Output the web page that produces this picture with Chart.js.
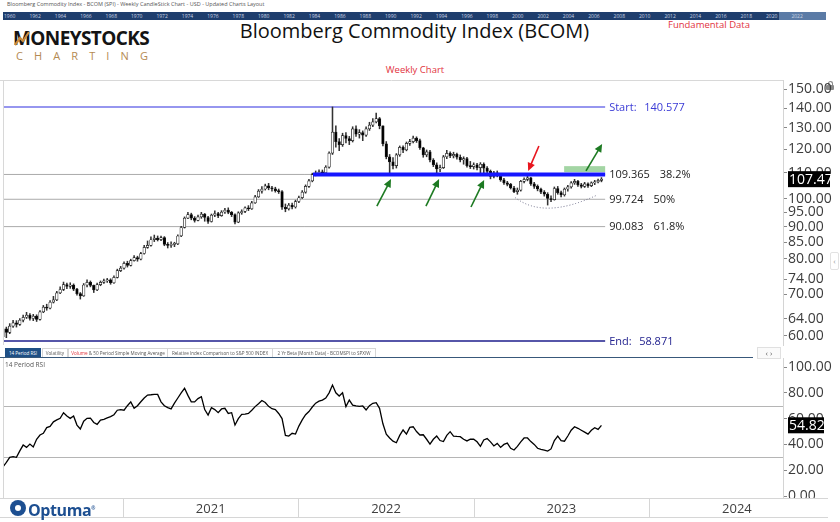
<!DOCTYPE html>
<html>
<head>
<meta charset="utf-8">
<title>Bloomberg Commodity Index (BCOM)</title>
<script src="https://cdn.jsdelivr.net/npm/chart.js"></script>
<style>
  html, body { margin: 0; padding: 0; background: #fff; }
  body { position: relative; width: 840px; height: 522px; overflow: hidden; font-family: 'Open Sans', sans-serif; }
  .abs { position: absolute; white-space: nowrap; }
  #note { left: 7px; top: 2px; font-size: 5.5px; line-height: 5.5px; color: #555; }
  #strip { left: 3px; top: 12px; width: 823px; height: 8px; background: #1f3e6d; overflow: hidden; }
  #strip .sel { position: absolute; left: 776px; top: 0; width: 47px; height: 8px; background: #5b7ba6; }
  #strip span { position: absolute; top: 1px; font-size: 5px; line-height: 6px; color: #c9d3e3; }
  #logo1 { left: 13px; top: 29px; font-size: 19px; line-height: 19px; font-weight: 700; color: #141414; letter-spacing: -0.6px; }
  #logo2 { left: 16px; top: 50px; width: 132px; display: flex; justify-content: space-between; font-size: 11px; line-height: 11px; color: #b48a52; }
  #title { left: 0; top: 21px; width: 829px; text-align: center; font-size: 20px; line-height: 20px; color: #111; }
  #fund { left: 668px; top: 19.5px; font-size: 9.5px; line-height: 9.5px; color: #e23340; }
  #weekly { left: 0; top: 65px; width: 830px; text-align: center; font-size: 9.5px; line-height: 9.5px; color: #e23340; }
  .tab { position: absolute; top: 348px; height: 8px; border: 1px solid #d6d6d6; border-bottom: none; font-size: 4.6px; line-height: 8px; text-align: center; color: #555; background: #fff; }
  .tab.on { background: #1e4f85; color: #fff; border-color: #1e4f85; }
  #tabline { left: 0; top: 357px; width: 753px; height: 1px; background: #38587a; }
  #nav { left: 757px; top: 347px; width: 22px; height: 10px; border: 1px solid #e0e0e0; font-size: 8px; line-height: 10px; text-align: center; color: #666; background: #fafafa; }
  #rsiname { left: 5px; top: 361.5px; font-size: 6.5px; line-height: 6.5px; color: #555; }
  #optuma { left: 0; top: 499px; width: 110px; height: 18px; background: #fff; }
  #optuma .dot { position: absolute; left: 10px; top: 1px; width: 16px; height: 16px; border-radius: 50%; background: #1d4f91; }
  #optuma .dot::after { content: ''; position: absolute; left: 5px; top: 5px; width: 6px; height: 6px; border-radius: 50%; background: #fff; }
  #optuma .txt { position: absolute; left: 28px; top: 0px; font-size: 16px; line-height: 18px; font-weight: 700; color: #1d4f91; letter-spacing: -0.4px; }
  #lock { left: 826px; top: 81px; width: 8px; height: 9px; }
  #lock .sh { position: absolute; left: 1.5px; top: 0; width: 3px; height: 4px; border: 1.5px solid #888; border-bottom: none; border-radius: 3px 3px 0 0; }
  #lock .bd { position: absolute; left: 0; top: 4px; width: 8px; height: 5px; background: #888; border-radius: 1px; }
  #side { left: 830px; top: 252px; width: 7px; height: 16px; border: 1px solid #e2e2e2; border-radius: 2px; font-size: 8px; line-height: 16px; text-align: center; color: #999; }
</style>
</head>
<body>
<div id="note" class="abs">Bloomberg Commodity Index - BCOM (SPI) - Weekly CandleStick Chart - USD - Updated Charts Layout</div>
<div id="strip" class="abs"><div class="sel"></div></div>
<div id="logo1" class="abs">MONEYSTOCKS</div>
<svg class="abs" style="left:12px;top:30px" width="20" height="18"><polyline points="3,15 8,8 11,11 17,2" fill="none" stroke="#c98a3c" stroke-width="2.2"/></svg>
<div id="logo2" class="abs"><span>C</span><span>H</span><span>A</span><span>R</span><span>T</span><span>I</span><span>N</span><span>G</span></div>
<div id="title" class="abs">Bloomberg Commodity Index (BCOM)</div>
<div id="fund" class="abs">Fundamental Data</div>
<div id="weekly" class="abs">Weekly Chart</div>
<div id="lock" class="abs"><div class="sh"></div><div class="bd"></div></div>
<div id="side" class="abs">‹</div>

<canvas id="price" class="abs" width="840" height="270" style="left:0;top:78px"></canvas>

<span class="tab on" style="left:5px;width:34px">14 Period RSI</span>
<span class="tab" style="left:42px;width:24px">Volatility</span>
<span class="tab" style="left:68px;width:98px"><span style="color:#e0303a">Volume</span> &amp; 50 Period Simple Moving Average</span>
<span class="tab" style="left:167px;width:104px">Relative Index Comparison to S&amp;P 500 INDEX</span>
<span class="tab" style="left:272px;width:102px">2 Yr Beta (Month Data) - BCOMSPI to SPXIW</span>
<div id="tabline" class="abs"></div>
<div id="nav" class="abs">‹ ›</div>
<div id="rsiname" class="abs">14 Period RSI</div>

<canvas id="rsi" class="abs" width="840" height="164" style="left:0;top:356px"></canvas>
<div id="optuma" class="abs"><div class="dot"></div><div class="txt">Optuma<sup style="font-size:5px">®</sup></div></div>

<script>
Chart.defaults.font.family = "'Open Sans', sans-serif";

// ---- data (weekly candles, first week starting 2020-04-26) ----
const firstWeek = '2020-04-26';
const firstOpen = 59.8;
const closes = [
  61.6, 60.8, 62.2, 63.0, 62.6, 63.6, 64.3, 64.8, 64.0, 64.6,
  63.8, 65.6, 66.8, 66.5, 68.0, 68.6, 70.4, 71.3, 72.6, 72.1,
  72.5, 71.4, 70.2, 69.6, 72.5, 73.2, 72.4, 71.2, 72.6, 73.2,
  73.6, 73.9, 73.1, 74.6, 76.5, 77.2, 78.6, 78.0, 79.4, 80.3,
  79.8, 81.5, 83.4, 84.0, 85.8, 86.3, 85.8, 86.5, 84.3, 84.0,
  84.3, 84.5, 87.0, 89.8, 93.0, 94.2, 93.0, 92.2, 93.4, 94.4,
  93.2, 91.8, 94.0, 94.6, 93.8, 95.1, 95.8, 95.0, 94.2, 91.6,
  94.8, 95.3, 96.6, 96.2, 98.4, 100.6, 102.8, 103.6, 104.8, 104.0,
  103.7, 103.0, 102.6, 96.8, 96.2, 97.6, 96.9, 98.9, 100.3, 102.4,
  104.6, 106.8, 109.3, 109.9, 110.4, 110.0, 112.4, 118.4, 128.0, 123.6,
  122.2, 126.4, 125.0, 124.0, 129.6, 127.0, 127.8, 126.6, 129.6, 131.4,
  133.0, 134.6, 131.0, 122.6, 116.8, 114.6, 113.0, 117.6, 121.0, 119.8,
  122.8, 123.6, 125.2, 124.0, 120.8, 117.6, 119.0, 115.4, 113.4, 111.6,
  112.2, 116.8, 118.3, 117.2, 117.9, 116.6, 115.4, 116.0, 113.0, 112.6,
  113.4, 112.2, 113.6, 112.0, 110.6, 108.6, 110.0, 109.0, 107.2, 106.0,
  105.4, 104.0, 102.6, 103.2, 106.6, 107.4, 108.0, 105.6, 104.6, 103.6,
  102.4, 101.6, 100.0, 99.6, 103.8, 102.2, 101.4, 103.6, 104.4, 106.0,
  106.6, 105.2, 104.6, 105.6, 104.9, 106.0, 106.4, 107.0, 107.47
];
const highs = [
  62.4, 62.0, 62.8, 63.6, 63.5, 64.0, 64.8, 65.5, 65.2, 65.0,
  64.9, 65.9, 67.2, 67.5, 68.4, 69.5, 70.8, 72.0, 73.3, 73.0,
  73.1, 72.8, 71.6, 70.5, 72.9, 73.9, 73.6, 72.5, 73.0, 73.6,
  74.1, 74.3, 74.2, 75.0, 76.9, 77.7, 79.0, 79.2, 79.8, 80.9,
  80.7, 81.9, 84.0, 85.4, 86.7, 87.3, 87.0, 87.0, 86.8, 84.9,
  85.1, 85.0, 87.4, 90.2, 93.4, 95.0, 94.7, 93.5, 94.0, 95.0,
  94.6, 93.6, 94.4, 95.5, 95.0, 95.6, 96.4, 96.6, 95.3, 94.5,
  95.2, 95.9, 97.0, 97.4, 99.0, 101.2, 103.4, 104.5, 105.5, 105.8,
  104.6, 104.3, 103.6, 103.0, 98.0, 98.2, 98.3, 99.4, 100.9, 103.0,
  105.2, 107.4, 109.9, 110.8, 111.3, 111.2, 113.0, 119.0, 140.577, 131.0,
  125.0, 127.5, 127.8, 126.0, 130.6, 131.0, 129.2, 128.6, 130.6, 132.8,
  134.6, 137.4, 135.2, 131.0, 123.6, 117.8, 116.4, 118.2, 121.6, 121.6,
  123.4, 124.6, 126.2, 125.8, 124.8, 121.0, 119.8, 119.6, 116.0, 114.2,
  113.2, 117.4, 119.6, 119.0, 118.8, 118.4, 117.6, 116.8, 116.6, 114.8,
  114.2, 114.0, 114.3, 114.2, 112.6, 111.2, 110.6, 110.8, 109.6, 107.8,
  106.6, 105.8, 104.6, 104.0, 107.0, 108.0, 109.4, 108.2, 106.2, 105.2,
  104.0, 103.0, 102.2, 101.0, 104.4, 104.6, 102.8, 104.0, 105.0, 106.5,
  107.4, 107.0, 105.8, 106.2, 106.0, 106.4, 107.0, 107.5, 108.1
];
const lows = [
  58.9, 59.6, 60.5, 61.9, 62.0, 62.4, 63.2, 64.0, 63.6, 63.5,
  63.3, 63.6, 65.4, 66.0, 66.3, 67.8, 68.4, 70.2, 71.0, 71.5,
  71.6, 71.0, 69.8, 68.8, 69.5, 72.0, 72.0, 70.5, 71.0, 72.3,
  72.9, 73.2, 72.7, 72.9, 74.4, 76.2, 76.9, 77.5, 77.8, 79.2,
  79.2, 79.6, 81.3, 83.1, 83.8, 85.2, 85.4, 85.5, 83.9, 83.2,
  83.4, 83.6, 84.2, 86.8, 89.6, 92.8, 92.4, 91.6, 92.0, 92.9,
  91.9, 91.2, 91.6, 93.5, 93.1, 93.6, 94.6, 94.5, 93.5, 91.0,
  91.4, 94.3, 94.9, 95.6, 96.0, 98.2, 100.4, 102.0, 103.2, 103.3,
  102.8, 102.4, 101.9, 96.0, 95.2, 95.8, 96.2, 96.5, 98.5, 100.0,
  102.0, 104.2, 106.4, 108.8, 109.2, 109.3, 109.6, 112.0, 117.8, 121.0,
  119.5, 121.4, 123.0, 122.2, 123.4, 126.0, 125.2, 124.0, 126.0, 128.8,
  130.6, 132.5, 129.6, 121.6, 115.9, 109.5, 111.6, 112.0, 117.0, 118.6,
  119.4, 121.8, 123.0, 123.2, 120.0, 116.6, 116.8, 114.6, 112.6, 109.4,
  110.5, 111.8, 116.0, 116.4, 116.3, 115.8, 114.6, 113.6, 112.4, 111.8,
  111.6, 111.2, 109.4, 109.2, 109.8, 107.6, 108.0, 108.4, 106.6, 105.4,
  104.8, 103.6, 102.2, 101.6, 102.8, 106.0, 106.8, 105.0, 103.8, 102.9,
  101.8, 100.9, 97.6, 98.8, 99.4, 101.6, 100.6, 100.9, 102.8, 103.9,
  105.4, 104.6, 104.0, 104.2, 104.2, 104.5, 105.3, 106.0, 106.4
];
const rsi = [
  22.7, 26, 30, 30.5, 30, 35, 39.5, 37.7, 40.3, 38,
  44, 47.3, 48.6, 53, 54, 57.5, 59, 60.2, 64.6, 62,
  60.2, 62, 55, 52, 58, 60.2, 60.4, 57, 55.5, 58.9,
  59.5, 60.5, 61.5, 63, 66.5, 67, 66.5, 70, 73, 68,
  70, 73.1, 76, 78.3, 78.5, 78.8, 78.8, 73, 70, 68.5,
  67.5, 72, 76, 80, 83.5, 78, 73, 73, 75.5, 77,
  67, 62.8, 68.5, 67, 64.6, 67.5, 68, 64, 64.6, 55,
  60, 63.3, 63.5, 64, 66.5, 69.3, 71.5, 74, 72.5, 69.5,
  67.7, 67, 64, 60, 47, 46.5, 48.6, 48, 54.2, 59,
  63, 65.5, 69, 72, 73.5, 74.4, 76, 80, 86, 80,
  77.5, 80, 69.3, 74.4, 70.5, 69.8, 69.5, 69.8, 66.7, 70,
  71.9, 72.4, 68, 56, 48, 45, 42.5, 41.3, 47, 51.2,
  48, 53.2, 53.7, 50, 47.3, 47.5, 44, 40.3, 44, 46.5,
  43, 42.2, 47, 49.9, 46.5, 46.2, 46, 44, 42.7, 44,
  44, 42, 38.5, 43.5, 44.5, 42, 38.8, 40.8, 37.7, 40,
  41, 37, 35.7, 38.5, 42, 45, 45, 42.2, 40, 37,
  36.2, 35.6, 34.8, 36.5, 43, 46.5, 43, 42.5, 46.5, 51,
  53.7, 52.5, 51, 49.5, 48, 51, 53, 51.7, 54.82
];
const lastPrice = 107.47;
const lastRsi = 54.82;

const yearLabels = ['2021', '2022', '2023', '2024'];
const yearStarts = ['2021-01-01', '2022-01-01', '2023-01-01', '2024-01-01', '2025-01-01'];
const priceTicks = [60, 64, 70, 74, 80, 85, 90, 95, 100, 110, 120, 130, 140, 150];
const rsiTicks = [0, 20, 40, 60, 80, 100];
const rsiBands = [30, 70];
const stripYears = [1960, 1962, 1964, 1966, 1968, 1970, 1972, 1974, 1976, 1978, 1980, 1982, 1984, 1986, 1988, 1990,
                    1992, 1994, 1996, 1998, 2000, 2002, 2004, 2006, 2008, 2010, 2012, 2014, 2016, 2018, 2020, 2022];

// Fibonacci retracement between the 2022 high and the 2020 low
const fibLevels = [140.577, 109.365, 99.724, 90.083, 58.871];
const fibNames = ['Start:', '38.2%', '50%', '61.8%', 'End:'];
const fibEnd = 179.1;        // week index where the levels stop
const supportFrom = 92.2;    // thick blue support line start

// annotations in (week index, price)
const upArrows = [[111.2, 97.2, 115.4, 107.5], [125.8, 97.2, 129.7, 107.5], [139.2, 96.9, 143.1, 107.1], [173.4, 110.8, 178.2, 122.5]];
const downArrow = [159.4, 121.6, 156.2, 110.8];
const targetZone = [166.9, 179.1, 110.3, 112.8];
const roundingBottom = [[152.3, 100.4], [162.7, 96.5], [176.7, 101.3]];

// ---- build ----
const DAY = 86400000;
const weekOf = d => (Date.parse(d) - Date.parse(firstWeek)) / (7 * DAY);
const X_MIN = 0, X_MAX = 232;

const strip = document.getElementById('strip');
stripYears.forEach((yr, k) => {
  const s = document.createElement('span');
  s.textContent = yr;
  s.style.left = (1 + k * 25.4) + 'px';
  strip.appendChild(s);
});

const opens = [firstOpen, ...closes.slice(0, -1)];
const bodies = closes.map((c, i) => ({ x: i, y: [opens[i], c] }));
const wicks = closes.map((c, i) => ({ x: i, y: [lows[i], highs[i]] }));

const drawArrow = (ctx, x1, y1, x2, y2, color) => {
  const a = Math.atan2(y2 - y1, x2 - x1), L = 8, W = 3.8;
  ctx.strokeStyle = color; ctx.fillStyle = color; ctx.lineWidth = 1.6;
  ctx.beginPath();
  ctx.moveTo(x1, y1);
  ctx.lineTo(x2 - L * 0.8 * Math.cos(a), y2 - L * 0.8 * Math.sin(a));
  ctx.stroke();
  ctx.beginPath();
  ctx.moveTo(x2, y2);
  ctx.lineTo(x2 - L * Math.cos(a) + W * Math.sin(a), y2 - L * Math.sin(a) - W * Math.cos(a));
  ctx.lineTo(x2 - L * Math.cos(a) - W * Math.sin(a), y2 - L * Math.sin(a) + W * Math.cos(a));
  ctx.closePath();
  ctx.fill();
};

const priceNotes = {
  id: 'priceNotes',
  beforeDatasetsDraw(chart) {
    const { ctx, scales: { x, y } } = chart;
    const l = x.getPixelForValue(targetZone[0]), r = x.getPixelForValue(targetZone[1]);
    const t = y.getPixelForValue(targetZone[3]), b = y.getPixelForValue(targetZone[2]);
    ctx.save();
    ctx.fillStyle = '#a3d5a4';
    ctx.fillRect(l, t, r - l, b - t);
    ctx.restore();
  },
  afterDatasetsDraw(chart) {
    const { ctx, scales: { x, y } } = chart;
    ctx.save();
    // rounding bottom (dotted)
    const p = roundingBottom.map(([i, v]) => [x.getPixelForValue(i), y.getPixelForValue(v)]);
    const cx = 2 * p[1][0] - (p[0][0] + p[2][0]) / 2;
    const cy = 2 * p[1][1] - (p[0][1] + p[2][1]) / 2;
    ctx.setLineDash([1, 2]);
    ctx.strokeStyle = '#6f6f8a';
    ctx.lineWidth = 1;
    ctx.beginPath();
    ctx.moveTo(p[0][0], p[0][1]);
    ctx.quadraticCurveTo(cx, cy, p[2][0], p[2][1]);
    ctx.stroke();
    ctx.setLineDash([]);

    upArrows.forEach(a => drawArrow(ctx, x.getPixelForValue(a[0]), y.getPixelForValue(a[1]),
      x.getPixelForValue(a[2]), y.getPixelForValue(a[3]), '#1d7a22'));
    drawArrow(ctx, x.getPixelForValue(downArrow[0]), y.getPixelForValue(downArrow[1]),
      x.getPixelForValue(downArrow[2]), y.getPixelForValue(downArrow[3]), '#e8161e');

    // fib labels
    const xl = x.getPixelForValue(fibEnd) + 4;
    ctx.font = "11px 'Open Sans'";
    ctx.textBaseline = 'middle';
    fibLevels.forEach((v, k) => {
      const yy = y.getPixelForValue(v) + 0.5;
      const val = v.toFixed(3);
      if (k === 0 || k === fibLevels.length - 1) {
        ctx.fillStyle = k === 0 ? '#3b3bd6' : '#23238f';
        ctx.fillText(fibNames[k], xl, yy);
        ctx.fillText(val, xl + (k === 0 ? 35 : 30), yy);
      } else {
        ctx.fillStyle = '#222';
        ctx.fillText(val, xl, yy);
        ctx.fillText(fibNames[k], xl + ctx.measureText(val).width + 10, yy);
      }
    });
    ctx.restore();
  },
  afterDraw(chart) {
    const { ctx, chartArea: a, scales: { y } } = chart;
    ctx.save();
    ctx.strokeStyle = '#d8d8d8';
    ctx.lineWidth = 1;
    ctx.beginPath();
    ctx.moveTo(a.left + 0.5, a.top); ctx.lineTo(a.left + 0.5, a.bottom);
    ctx.moveTo(0, a.top + 0.5); ctx.lineTo(a.right, a.top + 0.5);
    ctx.stroke();
    const yy = y.getPixelForValue(lastPrice);
    ctx.fillStyle = '#000';
    ctx.fillRect(y.left + 5, yy - 8, 42, 16);
    ctx.fillStyle = '#fff';
    ctx.font = "14px 'Open Sans'";
    ctx.textBaseline = 'middle';
    ctx.fillText(lastPrice.toFixed(2), y.left + 6, yy + 0.5);
    ctx.restore();
  }
};

const fibColors = ['#7373ea', '#ababab', '#ababab', '#ababab', '#1e1e8c'];
const fibDatasets = fibLevels.map((v, k) => ({
  type: 'line',
  data: [{ x: X_MIN, y: v }, { x: fibEnd, y: v }],
  borderColor: fibColors[k],
  borderWidth: k === 0 || k === 4 ? 1.5 : 1,
  pointRadius: 0,
  order: 3
}));

new Chart(document.getElementById('price'), {
  type: 'bar',
  data: {
    datasets: [
      {
        type: 'line',
        data: [{ x: supportFrom, y: fibLevels[1] }, { x: fibEnd, y: fibLevels[1] }],
        borderColor: '#1616ff',
        borderWidth: 4,
        pointRadius: 0,
        order: 0
      },
      {
        data: bodies,
        backgroundColor: ctx => {
          const r = ctx.raw;
          return r && r.y[1] >= r.y[0] ? '#fff' : '#000';
        },
        borderColor: '#1a1a1a',
        borderWidth: 0.7,
        borderSkipped: false,
        barThickness: 2.6,
        minBarLength: 1,
        grouped: false,
        order: 1
      },
      {
        data: wicks,
        backgroundColor: '#333',
        barThickness: 0.9,
        grouped: false,
        order: 2
      },
      ...fibDatasets
    ]
  },
  options: {
    responsive: false,
    animation: false,
    layout: { padding: { left: 3, top: 2, bottom: 3, right: 0 } },
    plugins: { legend: { display: false }, tooltip: { enabled: false } },
    scales: {
      x: { type: 'linear', min: X_MIN, max: X_MAX, offset: false, display: false },
      y: {
        type: 'logarithmic',
        position: 'right',
        min: 58,
        max: 155.4,
        afterBuildTicks: s => { s.ticks = priceTicks.map(v => ({ value: v })); },
        afterFit: s => { s.width = 57; s.paddingTop = 0; s.paddingBottom = 0; },
        grid: { drawOnChartArea: false, drawTicks: true, tickLength: 4, color: '#888' },
        border: { display: true, color: '#d4d4d4' },
        ticks: { autoSkip: false, padding: 1, color: '#3c3c3c', font: { size: 14 }, callback: v => Number(v).toFixed(2) }
      }
    }
  },
  plugins: [priceNotes]
});

const yearPos = yearStarts.map(weekOf);

const rsiNotes = {
  id: 'rsiNotes',
  beforeDatasetsDraw(chart) {
    const { ctx, chartArea: a, scales: { y } } = chart;
    ctx.save();
    ctx.strokeStyle = '#b5b5b5';
    ctx.lineWidth = 1;
    rsiBands.forEach(v => {
      const yy = Math.round(y.getPixelForValue(v)) + 0.5;
      ctx.beginPath(); ctx.moveTo(a.left, yy); ctx.lineTo(a.right, yy); ctx.stroke();
    });
    ctx.restore();
  },
  afterDraw(chart) {
    const { ctx, chartArea: a, scales: { x, y } } = chart;
    ctx.save();
    ctx.fillStyle = '#fff';
    ctx.fillRect(y.left + 1, a.bottom + 1, 45, 20);
    ctx.strokeStyle = '#d6d6d6';
    ctx.lineWidth = 1;
    ctx.beginPath();
    ctx.moveTo(0, a.bottom + 0.5); ctx.lineTo(828, a.bottom + 0.5);
    ctx.moveTo(0, a.bottom + 19.5); ctx.lineTo(828, a.bottom + 19.5);
    ctx.moveTo(a.left + 0.5, a.top); ctx.lineTo(a.left + 0.5, a.bottom);
    yearPos.forEach(w => {
      const xx = Math.round(x.getPixelForValue(w)) + 0.5;
      if (xx < a.right) { ctx.moveTo(xx, a.bottom); ctx.lineTo(xx, a.bottom + 20); }
    });
    ctx.stroke();
    const yy = y.getPixelForValue(lastRsi);
    ctx.fillStyle = '#000';
    ctx.fillRect(y.left + 5, yy - 8, 36, 16);
    ctx.fillStyle = '#fff';
    ctx.font = "14px 'Open Sans'";
    ctx.textBaseline = 'middle';
    ctx.fillText(lastRsi.toFixed(2), y.left + 6, yy + 0.5);
    ctx.restore();
  }
};

new Chart(document.getElementById('rsi'), {
  type: 'line',
  data: {
    datasets: [{
      data: rsi.map((v, i) => ({ x: i, y: v })),
      borderColor: '#000',
      borderWidth: 1.3,
      pointRadius: 0,
      tension: 0
    }]
  },
  options: {
    responsive: false,
    animation: false,
    layout: { padding: { left: 3, top: 2, bottom: 2, right: 0 } },
    plugins: { legend: { display: false }, tooltip: { enabled: false } },
    scales: {
      x: {
        type: 'linear', min: X_MIN, max: X_MAX, position: 'bottom',
        afterBuildTicks: s => { s.ticks = yearLabels.map((l, k) => ({ value: (yearPos[k] + yearPos[k + 1]) / 2 })); },
        afterFit: s => { s.height = 20; s.paddingLeft = 0; s.paddingRight = 0; },
        grid: { display: false, drawTicks: false },
        border: { display: false },
        ticks: { autoSkip: false, maxRotation: 0, padding: 3, color: '#404040', font: { size: 13 }, callback: (v, k) => yearLabels[k] }
      },
      y: {
        position: 'right',
        min: -1.55,
        max: 107,
        afterBuildTicks: s => { s.ticks = rsiTicks.map(v => ({ value: v })); },
        afterFit: s => { s.width = 57; s.paddingTop = 0; s.paddingBottom = 0; },
        grid: { drawOnChartArea: false, drawTicks: true, tickLength: 4, color: '#888' },
        border: { display: true, color: '#d4d4d4' },
        ticks: { autoSkip: false, padding: 1, color: '#3c3c3c', font: { size: 14 }, callback: v => Number(v).toFixed(2) }
      }
    }
  },
  plugins: [rsiNotes]
});
</script>
</body>
</html>
